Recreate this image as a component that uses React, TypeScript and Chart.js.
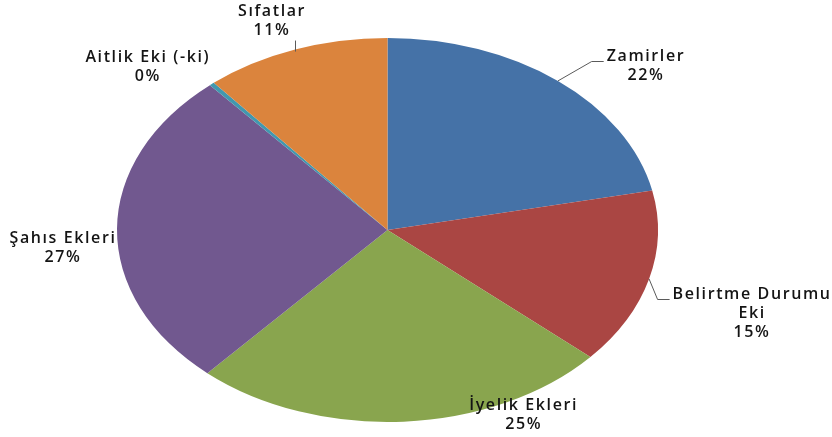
import React, { useEffect, useRef } from "react";
import { Chart, registerables } from "chart.js";

Chart.register(...registerables);

const categories = [
  "Zamirler",
  "Belirtme Durumu\nEki",
  "İyelik Ekleri",
  "Şahıs Ekleri",
  "Aitlik Eki (-ki)",
  "Sıfatlar",
];
const values = [21.7, 14.8, 25.1, 27.0, 0.3, 11.1];
const colors = ["#4572A7", "#AA4643", "#89A54E", "#71588F", "#4198AF", "#DB843D"];

// label placement relative to the slice's mid-angle edge point (style, not data)
const labelOffsets: [number, number][] = [
  [87, -24],
  [102, 16],
  [119, -16],
  [-55, 10],
  [-65, -27],
  [-24, -38],
];
const leaderKinds = ["elbow", "elbow", "none", "none", "none", "vertical"];

const SX = 270.5 / 192;
const LINE_H = 19;

const ellipsePlugin = {
  id: "ellipse",
  beforeDatasetsDraw(chart: any) {
    const arc = chart.getDatasetMeta(0).data[0];
    if (!arc) return;
    const ctx = chart.ctx;
    ctx.save();
    ctx.translate(arc.x, arc.y);
    ctx.scale(SX, 1);
    ctx.translate(-arc.x, -arc.y);
  },
  afterDatasetsDraw(chart: any) {
    chart.ctx.restore();
  },
};

const labelPlugin = {
  id: "pieLabels",
  afterDraw(chart: any) {
    const ctx = chart.ctx;
    const meta = chart.getDatasetMeta(0);
    const data = chart.data.datasets[0].data as number[];
    const total = data.reduce((a, b) => a + b, 0);
    ctx.save();
    ctx.font = "600 16px 'Open Sans'";
    (ctx as any).letterSpacing = "1.6px";
    ctx.textAlign = "center";
    ctx.textBaseline = "middle";
    meta.data.forEach((arc: any, i: number) => {
      const mid = (arc.startAngle + arc.endAngle) / 2;
      const ax = arc.x + arc.outerRadius * SX * Math.cos(mid);
      const ay = arc.y + arc.outerRadius * Math.sin(mid);
      const lx = ax + labelOffsets[i][0];
      const ly = ay + labelOffsets[i][1];
      const lines = String(chart.data.labels[i]).split("\n");
      lines.push(Math.round((data[i] / total) * 100) + "%");
      let maxW = 0;
      lines.forEach((t) => {
        maxW = Math.max(maxW, ctx.measureText(t).width);
      });
      const left = lx - maxW / 2;
      ctx.fillStyle = "#141414";
      lines.forEach((t, k) => {
        ctx.fillText(t, lx + 1, ly + k * LINE_H);
      });
      ctx.strokeStyle = "#5a5a5a";
      ctx.lineWidth = 1;
      if (leaderKinds[i] === "elbow") {
        const ey = Math.round(ly + 4) + 0.5;
        ctx.beginPath();
        ctx.moveTo(ax, ay);
        ctx.lineTo(left - 14, ey);
        ctx.lineTo(left - 2, ey);
        ctx.stroke();
      } else if (leaderKinds[i] === "vertical") {
        const x = Math.round(ax) + 0.5;
        ctx.beginPath();
        ctx.moveTo(x, ay + 2);
        ctx.lineTo(x, ly + (lines.length - 1) * LINE_H + 10);
        ctx.stroke();
      }
    });
    ctx.restore();
  },
};

export default function App() {
  const ref = useRef<HTMLCanvasElement>(null);
  useEffect(() => {
    document.body.style.margin = "0";
    const chart = new Chart(ref.current!, {
      type: "pie",
      data: {
        labels: categories,
        datasets: [
          {
            data: values,
            backgroundColor: colors,
            borderWidth: 0,
          },
        ],
      },
      options: {
        responsive: false,
        animation: false,
        layout: { padding: { left: 195.5, right: 252.5, top: 38, bottom: 15 } },
        plugins: { legend: { display: false }, tooltip: { enabled: false } },
      },
      plugins: [ellipsePlugin, labelPlugin],
    });
    return () => chart.destroy();
  }, []);
  return (
    <div style={{ width: 832, height: 437, background: "#fff" }}>
      <canvas ref={ref} width={832} height={437} />
    </div>
  );
}
